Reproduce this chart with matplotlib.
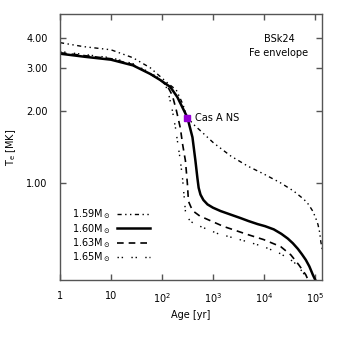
import matplotlib.pyplot as plt
from matplotlib.ticker import FixedLocator, FixedFormatter, NullLocator

# 1.59 Msun
age_159 = [1, 2.84, 5, 10, 27, 59, 128, 191, 253, 316, 420, 570, 1030, 2220, 4800,
           9910, 21400, 38600, 60700, 75000, 91400, 104000, 115000, 124000,
           131000, 143000]
t_159 = [3.81, 3.67, 3.62, 3.56, 3.30, 3.00, 2.60, 2.43, 2.14, 1.87, 1.75, 1.65,
         1.47, 1.30, 1.18, 1.095, 1.005, 0.93, 0.861, 0.82, 0.768, 0.72, 0.678,
         0.63, 0.575, 0.52]

# 1.60 Msun
age_160 = [1, 3.1, 10, 27, 59, 93, 146, 201, 252, 316, 397, 454, 497, 525, 570,
           650, 783, 1000, 1410, 2200, 3490, 5000, 7550, 10500, 15600, 22000,
           29400, 37000, 46300, 56000, 66500, 78000, 91400, 105000]
t_160 = [3.43, 3.33, 3.24, 3.07, 2.83, 2.67, 2.50, 2.27, 2.06, 1.87, 1.55, 1.24,
         1.05, 0.96, 0.90, 0.855, 0.82, 0.795, 0.77, 0.745, 0.72, 0.70, 0.68,
         0.667, 0.647, 0.62, 0.593, 0.567, 0.538, 0.51, 0.484, 0.455, 0.42,
         0.395]

# 1.63 Msun
age_163 = [1, 10, 27, 59, 93, 128, 160, 192, 230, 253, 289, 316, 331, 370, 415,
           550, 783, 1620, 4800, 9910, 21400, 33700, 48400, 66500, 76200]
t_163 = [3.46, 3.27, 3.09, 2.83, 2.67, 2.52, 2.31, 2.00, 1.69, 1.46, 1.24, 0.995,
         0.845, 0.80, 0.768, 0.735, 0.711, 0.665, 0.616, 0.587, 0.549, 0.508,
         0.462, 0.42, 0.393]

# 1.65 Msun
age_165 = [1, 10, 27, 59, 93, 117, 134, 160, 184, 210, 230, 253, 289, 320, 362,
           450, 570, 1230, 4800, 9910, 21400, 38600, 58100, 72800]
t_165 = [3.50, 3.30, 3.12, 2.86, 2.70, 2.55, 2.36, 2.00, 1.70, 1.41, 1.24, 1.054,
         0.768, 0.725, 0.698, 0.68, 0.665, 0.622, 0.575, 0.549, 0.513, 0.475,
         0.431, 0.396]

casa_age = 316
casa_t = 1.87

fs = 7
plt.rcParams['font.family'] = 'DejaVu Sans'
fig = plt.figure(figsize=(3.38, 3.38), dpi=100)
ax = fig.add_axes([60 / 338, 1 - 280 / 338, 262 / 338, 266 / 338])

ax.plot(age_159, t_159, color='black', lw=1.0, ls=(0, (3, 2.5, 1, 2.5, 1, 2.5)),
        label=r'1.59M$_\odot$')
ax.plot(age_160, t_160, color='black', lw=1.8, ls='-', label=r'1.60M$_\odot$')
ax.plot(age_163, t_163, color='black', lw=1.2, ls=(0, (4, 3)),
        label=r'1.63M$_\odot$')
ax.plot(age_165, t_165, color='black', lw=1.0, ls=(0, (1, 2, 1, 6)),
        label=r'1.65M$_\odot$')

ax.plot([casa_age], [casa_t], marker='s', ms=4, color='#9400d3', mec='#9400d3')
ax.text(casa_age * 1.42, casa_t, 'Cas A NS', fontsize=fs, va='center', ha='left')

ax.text(0.836, 0.88, 'BSk24\nFe envelope', transform=ax.transAxes, fontsize=fs,
        ha='center', va='center', linespacing=1.5)

ax.set_xscale('log')
ax.set_yscale('log')
ax.set_xlim(1, 10 ** 5.14)
ax.set_ylim(0.4, 5.0)

ax.xaxis.set_major_locator(FixedLocator([1, 10, 100, 1e3, 1e4, 1e5]))
ax.xaxis.set_major_formatter(FixedFormatter(['1', '10', r'10$^2$', r'10$^3$',
                                             r'10$^4$', r'10$^5$']))
ax.xaxis.set_minor_locator(NullLocator())
ax.yaxis.set_major_locator(FixedLocator([1, 2, 3, 4]))
ax.yaxis.set_major_formatter(FixedFormatter(['1.00', '2.00', '3.00', '4.00']))
ax.yaxis.set_minor_locator(NullLocator())

ax.tick_params(direction='in', which='both', top=True, right=True, length=4,
               width=1, color='#555555', labelsize=fs)
ax.tick_params(axis='x', pad=8)
ax.tick_params(axis='y', pad=9)
for s in ax.spines.values():
    s.set_color('#555555')
    s.set_linewidth(1.0)

ax.set_xlabel('Age [yr]', fontsize=fs, labelpad=4)
ax.set_ylabel(r'T$_{\rm e}$ [MK]', fontsize=fs, labelpad=6)

ax.legend(loc='lower left', bbox_to_anchor=(0.03, 0.045), frameon=False,
          fontsize=fs, markerfirst=False, handlelength=3.4, handletextpad=0.7,
          labelspacing=0.05, borderaxespad=0)

fig.savefig('out.png', dpi=100)
